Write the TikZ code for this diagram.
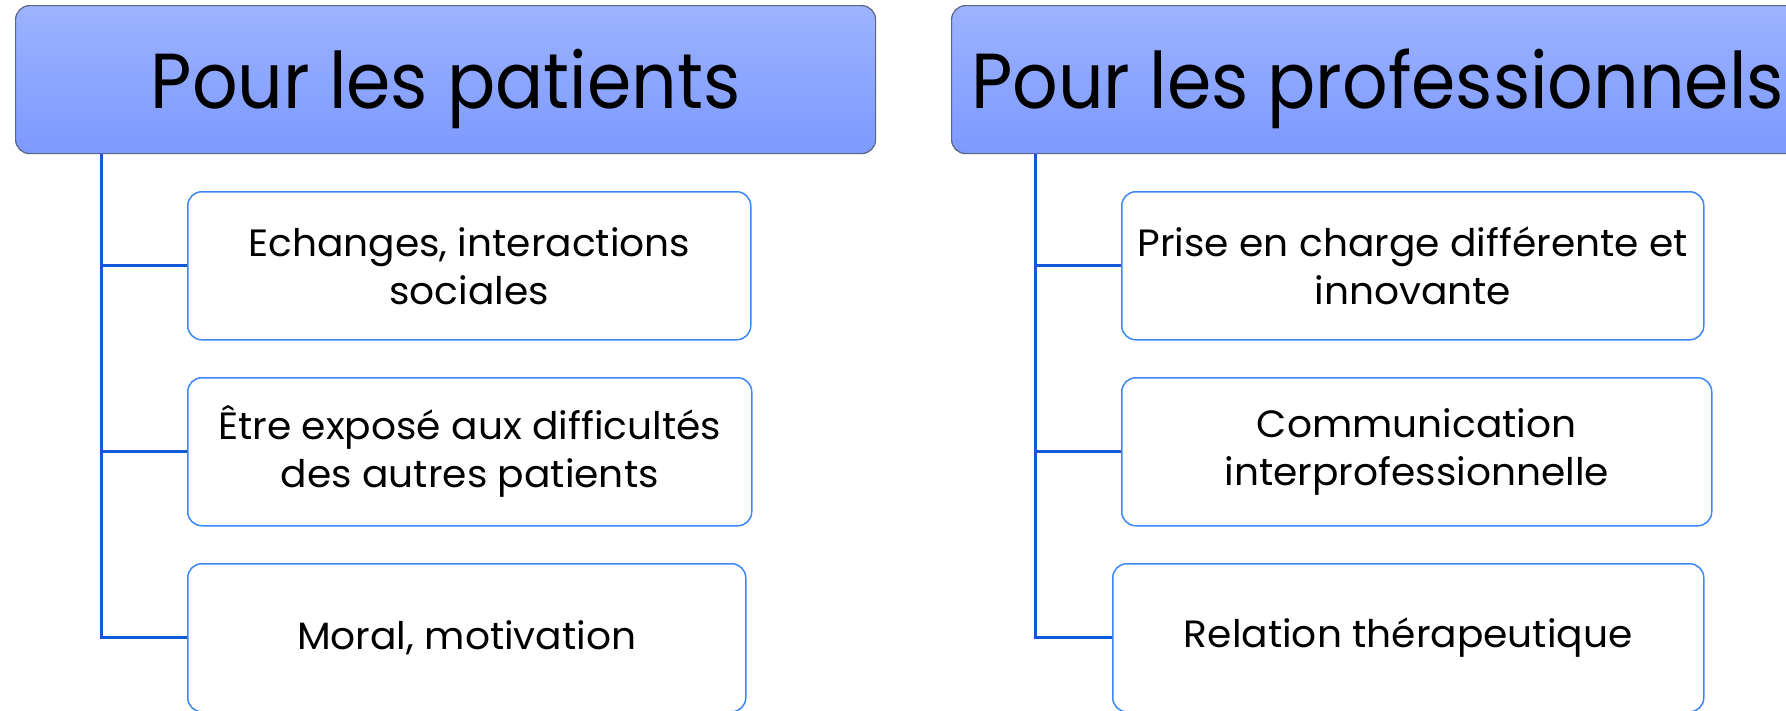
\documentclass[tikz,border=0pt]{standalone}
\usepackage{fontspec}
\setmainfont{Poppins}
\newfontfamily\headfont[FakeStretch=0.915]{Poppins}
\newfontfamily\childfont[FakeStretch=1.03]{Poppins}
\definecolor{hdrtop}{HTML}{9DB3FF}
\definecolor{hdrbot}{HTML}{7C99FD}
\definecolor{hdrborder}{HTML}{5A6580}
\definecolor{childborder}{HTML}{3C87F7}
\definecolor{connblue}{HTML}{1558D6}
\begin{document}
\begin{tikzpicture}[x=1pt,y=-1pt,
  header/.style={draw=hdrborder, line width=1.2pt, rounded corners=14pt,
    top color=hdrtop, bottom color=hdrbot, minimum width=860pt,
    minimum height=148pt, anchor=north west, inner sep=0pt,
    text height=60pt, text depth=2pt,
    font=\headfont\fontsize{78}{88}\selectfont},
  child/.style={draw=childborder, line width=1.5pt, rounded corners=14pt,
    fill=white, minimum height=148pt, anchor=north west, inner sep=0pt,
    align=center, font=\childfont\fontsize{38}{48}\selectfont},
  conn/.style={draw=connblue, line width=3pt}]
\useasboundingbox (0,0) rectangle (1786,710);
\clip (0,0) rectangle (1786,710);

% headers
\node[header] (hL) at (15,5) {Pour les patients};
\node[header, minimum width=852pt] (hR) at (951,5) {Pour les professionnels};

% children left
\node[child, minimum width=563pt] (c1) at (187,191) {Echanges, interactions\\sociales};
\node[child, minimum width=564pt] (c2) at (187,377) {Être exposé aux difficultés\\des autres patients};
\node[child, minimum width=558pt] (c3) at (187,563) {Moral, motivation};

% children right
\node[child, minimum width=582pt] (d1) at (1121,191) {Prise en charge différente et\\innovante};
\node[child, minimum width=590pt] (d2) at (1121,377) {Communication\\interprofessionnelle};
\node[child, minimum width=591pt] (d3) at (1112,563) {Relation thérapeutique};

% trunks
\coordinate (tL) at (hL.south west -| 101,0);
\coordinate (tR) at (hR.south west -| 1035,0);
\draw[conn] (tL) |- (c3.west);
\draw[conn] (c1.west) -- (c1.west -| tL);
\draw[conn] (c2.west) -- (c2.west -| tL);
\draw[conn] (tR) |- (d3.west);
\draw[conn] (d1.west) -- (d1.west -| tR);
\draw[conn] (d2.west) -- (d2.west -| tR);
\end{tikzpicture}
\end{document}
